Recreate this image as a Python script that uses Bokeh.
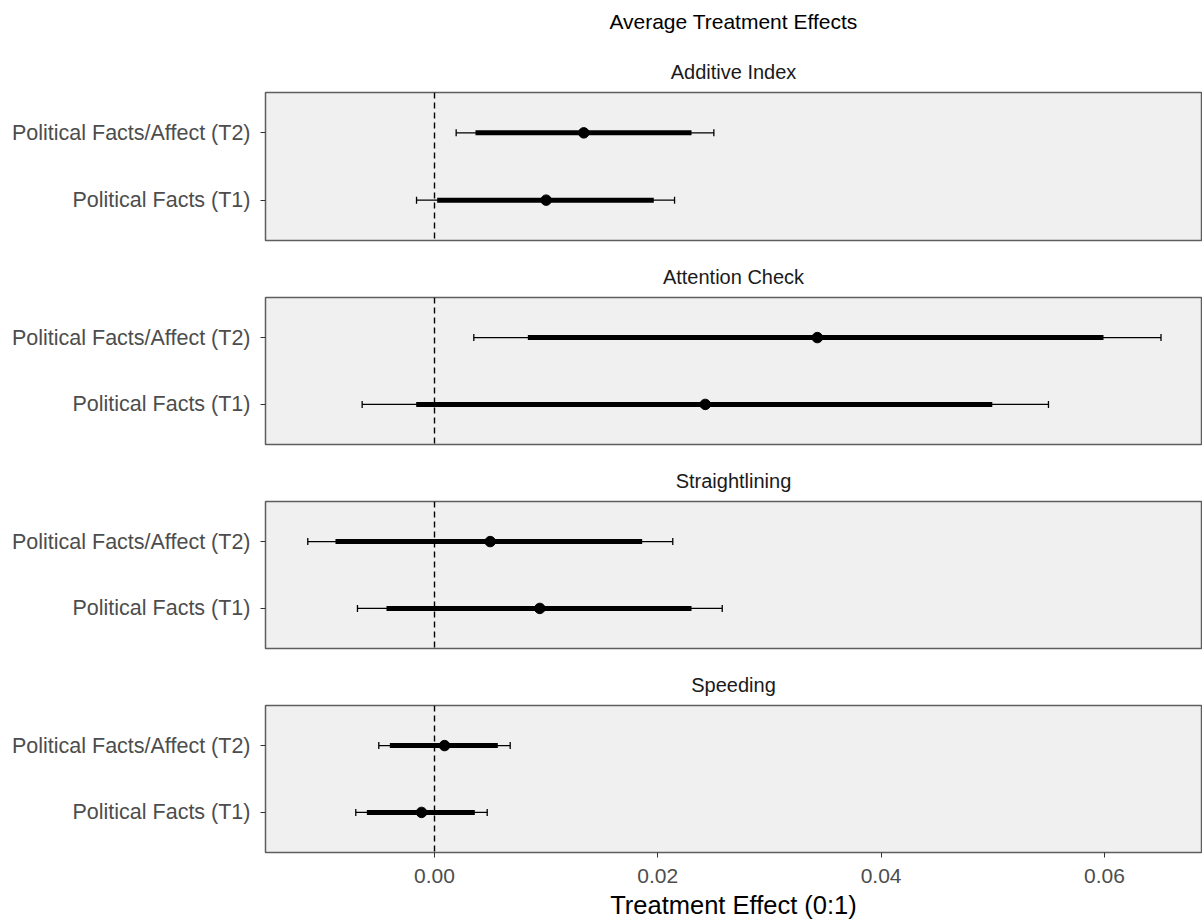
from bokeh.plotting import figure
from bokeh.layouts import column
from bokeh.models import (Range1d, FactorRange, FixedTicker, Span, Whisker, TeeHead,
                          ColumnDataSource, Title)
from bokeh.embed import file_html
from bokeh.resources import INLINE

# ---------------- data ----------------
outcomes = ["Additive Index", "Attention Check", "Straightlining", "Speeding"]
treatments = ["Political Facts (T1)", "Political Facts/Affect (T2)"]
# one row per outcome: [T1, T2]
estimate = [[0.01000, 0.01337], [0.02425, 0.03429], [0.00943, 0.00499], [-0.00116, 0.00090]]
lo95 = [[-0.00161, 0.00194], [-0.00648, 0.00352], [-0.00690, -0.01135], [-0.00705, -0.00499]]
hi95 = [[0.02150, 0.02502], [0.05499, 0.06507], [0.02577, 0.02134], [0.00472, 0.00678]]
lo90 = [[0.00024, 0.00367], [-0.00164, 0.00836], [-0.00430, -0.00887], [-0.00606, -0.00400]]
hi90 = [[0.01964, 0.02302], [0.04996, 0.05992], [0.02302, 0.01860], [0.00361, 0.00567]]
x_ticks = [0.0, 0.02, 0.04, 0.06]
x_tick_labels = ["0.00", "0.02", "0.04", "0.06"]
main_title = "Average Treatment Effects"
x_title = "Treatment Effect (0:1)"

# ---------------- style ----------------
FONT = "Liberation Sans"
X_START, X_END = -0.015137, 0.068697
W = 1202
FRAME_H = 148
PANEL_FILL = "#f0f0f0"
BORDER = "#5e5e5e"


def style_title(t, size, color, standoff):
    t.align = "center"
    t.text_font = FONT
    t.text_font_size = size
    t.text_font_style = "normal"
    t.text_color = color
    t.standoff = standoff


figs = []
n = len(outcomes)
for i, name in enumerate(outcomes):
    first = i == 0
    last = i == n - 1
    top = 92 if first else 42
    bottom = 70 if last else 14
    p = figure(width=W, height=top + FRAME_H + bottom,
               x_range=Range1d(X_START, X_END),
               y_range=FactorRange(factors=treatments, range_padding=0.1),
               output_backend="svg", toolbar_location=None,
               min_border_left=265, min_border_right=1,
               min_border_top=top, min_border_bottom=bottom,
               x_axis_location="below" if last else None)
    p.background_fill_color = PANEL_FILL
    p.border_fill_color = "white"
    p.outline_line_color = BORDER
    p.outline_line_width = 1.5
    p.xgrid.visible = False
    p.ygrid.visible = False

    if first:
        # strip label next to the panel, a small gap, then the overall title
        strip = Title(text=name)
        style_title(strip, "20px", "#1a1a1a", 19)
        p.add_layout(strip, "above")
        gap = Title(text=" ")
        style_title(gap, "1px", "#ffffff", 12)
        p.add_layout(gap, "above")
        p.title.text = main_title
        style_title(p.title, "21px", "#000000", 4)
    else:
        p.title.text = name
        style_title(p.title, "20px", "#1a1a1a", 19)

    # y axis
    ya = p.yaxis[0]
    ya.axis_line_color = None
    ya.major_tick_line_color = "#333333"
    ya.major_tick_out = 5
    ya.major_tick_in = 0
    ya.minor_tick_line_color = None
    ya.major_label_text_font = FONT
    ya.major_label_text_font_size = "21.5px"
    ya.major_label_text_color = "#4d4d4d"
    ya.major_label_standoff = 10

    if last:
        xa = p.xaxis[0]
        xa.ticker = FixedTicker(ticks=x_ticks)
        xa.major_label_overrides = {t: l for t, l in zip(x_ticks, x_tick_labels)}
        xa.axis_line_color = None
        xa.major_tick_line_color = "#333333"
        xa.major_tick_out = 5
        xa.major_tick_in = 0
        xa.minor_tick_line_color = None
        xa.major_label_text_font = FONT
        xa.major_label_text_font_size = "21px"
        xa.major_label_text_color = "#4d4d4d"
        xa.major_label_standoff = 11
        xa.axis_label = x_title
        xa.axis_label_text_font = FONT
        xa.axis_label_text_font_size = "25.5px"
        xa.axis_label_text_font_style = "normal"
        xa.axis_label_text_color = "#000000"
        xa.axis_label_standoff = 5

    # zero reference line
    p.add_layout(Span(location=0, dimension="height", line_color="black",
                      line_width=1.4, line_dash="6 4", level="underlay"))

    src = ColumnDataSource(dict(
        treatment=treatments,
        est=estimate[i], lo95=lo95[i], hi95=hi95[i], lo90=lo90[i], hi90=hi90[i],
    ))
    p.add_layout(Whisker(source=src, base="treatment", lower="lo95", upper="hi95",
                         dimension="width", line_color="black", line_width=1.3,
                         lower_head=TeeHead(size=7, line_color="black", line_width=1.3),
                         upper_head=TeeHead(size=7, line_color="black", line_width=1.3)))
    p.segment(x0="lo90", x1="hi90", y0="treatment", y1="treatment", source=src,
              line_color="black", line_width=5)
    p.scatter(x="est", y="treatment", source=src, size=10.5, color="black")
    figs.append(p)

layout = column(*figs, spacing=0)
open("out.html", "w").write(file_html(layout, INLINE))
